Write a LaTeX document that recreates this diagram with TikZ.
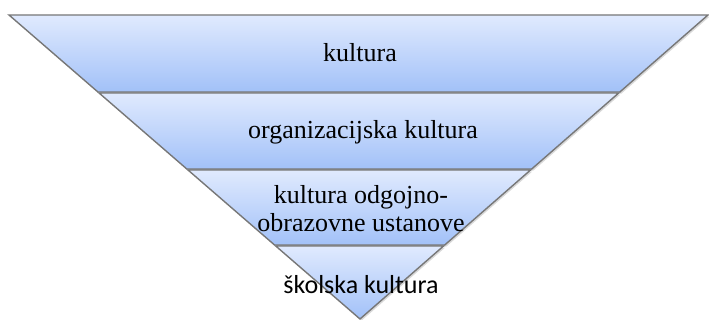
\documentclass[tikz,border=0pt]{standalone}
\usepackage{fontspec}
\setmainfont{Liberation Serif}
\newfontfamily\carlito{Carlito}
\usepackage{tikz}
\usetikzlibrary{calc}
\usetikzlibrary{shadows}
\definecolor{bandtop}{HTML}{E0EAFE}
\definecolor{bandbot}{HTML}{A2C1F8}
\definecolor{bandline}{HTML}{777777}

\begin{document}
\begin{tikzpicture}[x=0.5pt, y=0.5pt]
    % Define styles
    \tikzstyle{band} = [draw=bandline, line width=0.7pt, top color=bandtop, bottom color=bandbot, drop shadow={opacity=0.3, shadow xshift=0.8pt, shadow yshift=-0.8pt}]
    \tikzstyle{bandtext} = [font=\fontsize{13}{14}\selectfont, align=center, inner sep=0pt]

    \useasboundingbox (0,0) rectangle (709,320);

    % Corners of the funnel
    \coordinate (tl) at (9,305);
    \coordinate (tr) at (708,305);
    \coordinate (apex) at (360,1);

    % Draw bands
    \foreach \ta/\tb in {0/0.2533, 0.2566/0.5066, 0.5099/0.7566, 0.7599/1}
        \path [band] ($(tl)!\ta!(apex)$) -- ($(tr)!\ta!(apex)$) -- ($(tr)!\tb!(apex)$) -- ($(tl)!\tb!(apex)$) -- cycle;

    % Place nodes
    \node [bandtext] (kultura) at (360,267) {kultura};
    \node [bandtext] (organizacijska) at (363,188) {organizacijska kultura};
    \node [bandtext] (ustanova) at (361,111) {kultura odgojno-\\obrazovne ustanove};
    \node [bandtext, font=\carlito\fontsize{13}{14}\selectfont] (skolska) at (361,35) {školska kultura};
\end{tikzpicture}
\end{document}
